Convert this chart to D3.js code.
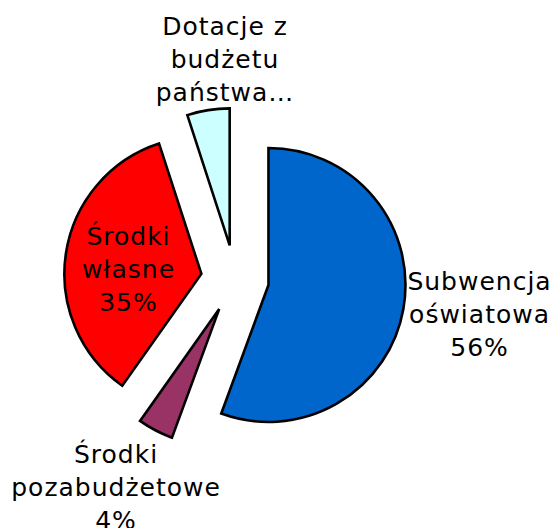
<!DOCTYPE html>
<html>
<head>
<meta charset="utf-8">
<script src="https://cdn.jsdelivr.net/npm/d3@7"></script>
<style>
    html, body { margin: 0; padding: 0; background: #fff; }
    svg { display: block; }
</style>
</head>
<body>
<div id="chart"></div>
<script>
// slice data, clockwise from 12 o'clock
var categories = ['Subwencja oświatowa', 'Środki pozabudżetowe', 'Środki własne', 'Dotacje z budżetu państwa'];
var values = [55.6, 4.2, 35.2, 5.0];
var labelLines = [
    ['Subwencja', 'oświatowa'],
    ['Środki', 'pozabudżetowe'],
    ['Środki', 'własne'],
    ['Dotacje z', 'budżetu', 'państwa…']
];
var showPercent = [true, true, true, false];
var colors = ['#0066CC', '#993366', '#FF0000', '#CCFFFF'];

// layout
var width = 558, height = 528;
var cx = 235, cy = 279;
var radius = 137;
var explode = 34;
// label distance from centre and small angular nudge (degrees), per slice
var labelRadius = [247, 240, 107, 220];
var labelNudge = [-2, 2, -3.3, 6.4];
var lineHeight = 33;

var svg = d3.select('#chart').append('svg')
    .attr('width', width)
    .attr('height', height);

svg.append('rect')
    .attr('width', width)
    .attr('height', height)
    .attr('fill', '#fff');

var data = categories.map(function(c, i)
{
    return {name: c, value: values[i], index: i};
});

var total = d3.sum(values);
var pct = function(v) { return Math.round(v / total * 100) + '%'; };

var pie = d3.pie()
    .sort(null)
    .value(function(d) { return d.value; });

var arc = d3.arc()
    .innerRadius(0)
    .outerRadius(radius);

var arcs = pie(data);

var layer = svg.append('g')
    .attr('transform', 'translate(' + cx + ',' + cy + ')');

layer.selectAll('.slice')
    .data(arcs)
    .enter()
    .append('path')
    .classed('slice', true)
    .attr('d', arc)
    .attr('transform', function(a)
    {
        var mid = (a.startAngle + a.endAngle) / 2;
        return 'translate(' + (Math.sin(mid) * explode) + ',' + (-Math.cos(mid) * explode) + ')';
    })
    .attr('fill', function(a) { return colors[a.index]; })
    .attr('stroke', '#000')
    .attr('stroke-width', 2.6)
    .attr('stroke-linejoin', 'miter');

var labels = layer.selectAll('.label')
    .data(arcs)
    .enter()
    .append('text')
    .classed('label', true)
    .attr('text-anchor', 'middle')
    .attr('font-family', '"DejaVu Sans", sans-serif')
    .attr('font-size', '25px')
    .attr('letter-spacing', '1px')
    .attr('fill', '#000');

labels.each(function(a)
{
    var el = d3.select(this);
    var i = a.index;
    var mid = (a.startAngle + a.endAngle) / 2 + labelNudge[i] * Math.PI / 180;
    var x = Math.sin(mid) * labelRadius[i];
    var y = -Math.cos(mid) * labelRadius[i];

    var lines = labelLines[i].slice();
    if(showPercent[i])
    {
        lines.push(pct(a.data.value));
    }

    // centre the block of lines around (x, y)
    var top = y - (lines.length - 1) * lineHeight / 2;

    lines.forEach(function(line, k)
    {
        el.append('tspan')
            .attr('x', x)
            .attr('y', top + k * lineHeight)
            .attr('dy', '0.36em')
            .text(line);
    });
});
</script>
</body>
</html>
